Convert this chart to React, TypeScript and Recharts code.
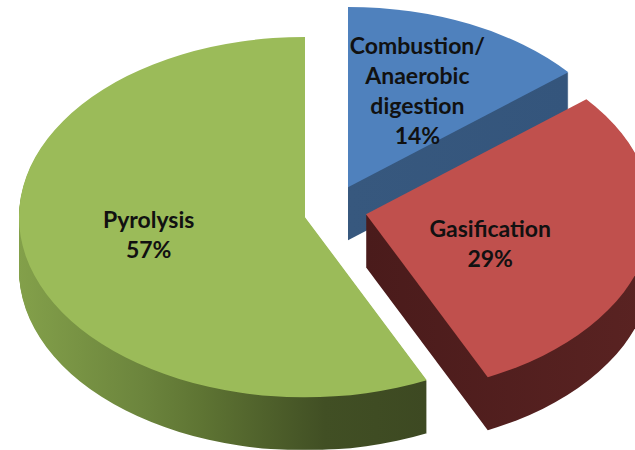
import { PieChart, Pie, Cell } from 'recharts';

const categories = ['Combustion/Anaerobic digestion', 'Gasification', 'Pyrolysis'];
const labelLines = [['Combustion/', 'Anaerobic', 'digestion'], ['Gasification'], ['Pyrolysis']];
const shares = [14, 29, 57];

const data = categories.map((name, i) => ({ name, value: shares[i] }));

const W = 635;
const H = 450;
const TILT = 0.63; // vertical squash that turns the disc into an ellipse
const R = 286;
const DEPTH = 53; // thickness of the disc on screen, px
const BASE = { x: 300, y: 214 };
// exploded slices are shifted away from the centre (screen px)
const OFFSETS = [{ x: 43, y: -30 }, { x: 61, y: -3 }, { x: 0, y: 0 }];
const TOP = ['#4f81bd', '#c0504d', '#9bbb59'];
const SIDE = ['url(#sideBlue)', 'url(#sideRed)', 'url(#sideGreen)'];
const LABEL_POS = [0.57, 0.445, 0.56];
const LABEL_DY = [-3, 12, -4];
const DRAW_ORDER = [0, 2, 1]; // back to front
const LINE = 30;

const renderLabel = (slice: number) => (props: any) => {
  if (props.index !== slice) return <g />;
  const RAD = Math.PI / 180;
  const r = props.outerRadius * LABEL_POS[slice];
  const x = props.cx + r * Math.cos(-props.midAngle * RAD);
  const y = props.cy + r * Math.sin(-props.midAngle * RAD) + LABEL_DY[slice] / TILT;
  const lines = [...labelLines[slice], `${Math.round(props.percent * 100)}%`];
  return (
    <g transform={`translate(${x},${y}) scale(1,${1 / TILT})`}>
      <text textAnchor="middle" fontFamily="Lato, sans-serif" fontWeight={700} fontSize={23} fill="#111">
        {lines.map((l, i) => (
          <tspan key={i} x={0} y={(i - (lines.length - 1) / 2) * LINE + 8}>{l}</tspan>
        ))}
      </text>
    </g>
  );
};

const slicePie = (slice: number, depth: number) => {
  const off = OFFSETS[slice];
  const top = depth === 0;
  return (
    <Pie
      key={`${slice}-${depth}`}
      data={data}
      dataKey="value"
      nameKey="name"
      cx={BASE.x + off.x}
      cy={(BASE.y + off.y + depth) / TILT}
      outerRadius={R}
      startAngle={90}
      endAngle={-270}
      stroke="none"
      isAnimationActive={false}
      labelLine={false}
      label={top ? renderLabel(slice) : false}
    >
      {data.map((_, i) => (
        <Cell key={i} fill={i === slice ? (top ? TOP[i] : SIDE[i]) : 'none'} stroke="none" />
      ))}
    </Pie>
  );
};

const pies: any[] = [];
DRAW_ORDER.forEach((slice) => {
  for (let d = DEPTH; d >= 0; d--) pies.push(slicePie(slice, d));
});

export default function App() {
  return (
    <div style={{ position: 'absolute', left: 0, top: 0, width: W, height: H, overflow: 'hidden', background: '#fff' }}>
      <div style={{ width: W, height: H / TILT, transform: `scaleY(${TILT})`, transformOrigin: '0 0' }}>
        <PieChart width={W} height={Math.round(H / TILT)}>
          <defs>
            <linearGradient id="sideGreen" x1="0" y1="0" x2="1" y2="0">
              <stop offset="0" stopColor="#83a04a" />
              <stop offset="0.3" stopColor="#6c853d" />
              <stop offset="0.45" stopColor="#5e7433" />
              <stop offset="0.75" stopColor="#414f24" />
              <stop offset="1" stopColor="#3d4922" />
            </linearGradient>
            <linearGradient id="sideRed" x1="0" y1="0" x2="1" y2="0">
              <stop offset="0" stopColor="#4a1b1b" />
              <stop offset="1" stopColor="#5a2322" />
            </linearGradient>
            <linearGradient id="sideBlue" x1="0" y1="0" x2="1" y2="0">
              <stop offset="0" stopColor="#37587e" />
              <stop offset="1" stopColor="#34557c" />
            </linearGradient>
          </defs>
          {pies}
        </PieChart>
      </div>
    </div>
  );
}
